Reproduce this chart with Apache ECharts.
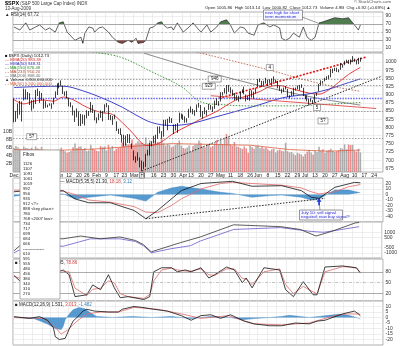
<!DOCTYPE html>
<html><head><meta charset="utf-8">
<script src="https://cdn.jsdelivr.net/npm/echarts@6/dist/echarts.min.js"></script>
<style>html,body{margin:0;padding:0;background:#fff}#c{width:400px;height:346px}</style>
</head><body><div id="c"></div>
<script>
const FONT = 'Liberation Sans';

// Trading sessions per month (Dec 2008 - Aug 2009, with the rest of August left blank)
const sessions = [
  ['2008-12', [1,2,3,4,5,8,9,10,11,12,15,16,17,18,19,22,23,24,26,29,30,31]],
  ['2009-01', [2,5,6,7,8,9,12,13,14,15,16,20,21,22,23,26,27,28,29,30]],
  ['2009-02', [2,3,4,5,6,9,10,11,12,13,17,18,19,20,23,24,25,26,27]],
  ['2009-03', [2,3,4,5,6,9,10,11,12,13,16,17,18,19,20,23,24,25,26,27,30,31]],
  ['2009-04', [1,2,3,6,7,8,9,13,14,15,16,17,20,21,22,23,24,27,28,29,30]],
  ['2009-05', [1,4,5,6,7,8,11,12,13,14,15,18,19,20,21,22,26,27,28,29]],
  ['2009-06', [1,2,3,4,5,8,9,10,11,12,15,16,17,18,19,22,23,24,25,26,29,30]],
  ['2009-07', [1,2,6,7,8,9,10,13,14,15,16,17,20,21,22,23,24,27,28,29,30,31]],
  ['2009-08', [3,4,5,6,7,10,11,12,13,14,17,18,19,20,21,24,25,26,27,28]]
];
const monthNames = ['Jan','Feb','Mar','Apr','May','Jun','Jul','Aug','Sep','Oct','Nov','Dec'];

// $SPX daily [open, close, low, high]
const ohlc = [
  [888.6,816.2,815.7,888.6],[817.0,848.8,817.0,850.5],[843.6,870.7,827.6,873.1],[869.8,845.2,839.0,881.2],[844.4,876.1,818.4,879.4],
  [882.7,909.7,882.7,918.6],[906.5,888.7,885.4,916.3],[892.0,899.2,885.5,908.3],[898.4,873.6,868.7,904.6],[871.8,879.7,851.4,883.2],
  [881.1,868.6,857.7,884.6],[871.5,913.2,871.5,914.7],[908.2,904.4,895.9,918.9],[905.9,885.3,875.0,911.0],[886.9,887.9,883.0,905.5],
  [887.2,871.6,857.1,887.4],[874.3,863.2,860.1,880.4],[863.9,868.2,861.4,869.8],[869.5,872.8,866.5,873.7],[872.4,869.4,857.1,873.7],
  [870.6,890.6,870.6,891.1],[890.6,903.3,889.4,910.3],
  [903.0,931.8,899.4,934.7],[929.2,927.5,919.5,936.6],[931.2,934.7,927.3,943.9],[927.5,906.7,902.4,927.5],[905.7,909.7,896.8,910.0],
  [909.9,890.4,888.3,911.9],[890.4,870.3,864.3,890.4],[869.8,871.8,862.0,877.0],[867.3,842.6,836.9,867.3],[842.0,843.7,817.0,851.6],
  [844.5,850.1,830.7,858.1],[849.6,805.2,804.5,849.6],[806.8,840.2,804.3,841.7],[839.7,827.5,811.3,839.7],[822.2,832.0,806.1,838.6],
  [832.5,836.6,827.7,852.5],[837.3,845.7,835.4,850.5],[845.7,874.1,845.7,877.9],[868.9,845.1,844.2,868.9],[845.7,825.9,821.7,851.7],
  [823.1,825.4,812.9,830.8],[825.7,838.5,822.0,842.6],[837.8,832.2,829.2,851.9],[831.8,845.9,818.5,850.6],[846.1,868.6,845.4,870.7],
  [868.2,869.9,861.7,875.0],[866.9,827.2,823.0,868.1],[827.4,833.7,822.1,838.2],[829.9,835.2,808.1,835.5],[834.0,826.8,825.2,839.4],
  [818.6,789.2,789.1,818.6],[791.1,788.4,780.4,796.2],[787.9,778.9,777.0,797.6],[775.9,770.1,754.3,778.7],[773.3,743.3,742.4,777.9],
  [744.7,773.1,744.7,775.5],[770.6,764.9,752.9,780.1],[765.8,752.8,751.8,779.4],[749.9,735.1,734.5,751.3],
  [729.6,700.8,699.7,729.6],[704.4,696.3,692.3,711.7],[698.6,712.9,698.6,724.1],[708.3,682.6,677.9,708.3],[684.0,683.4,666.8,699.1],
  [680.8,676.5,672.9,695.3],[679.3,719.6,679.3,719.6],[719.6,721.4,713.9,731.9],[722.3,750.7,714.8,752.6],[752.0,756.6,742.5,758.3],
  [758.8,753.9,753.4,774.5],[753.9,778.1,749.9,778.1],[776.0,794.4,765.6,803.0],[797.9,784.0,781.8,803.2],[784.6,768.5,766.2,788.9],
  [772.0,822.9,772.0,823.4],[820.6,806.1,805.5,823.7],[806.8,813.9,791.4,826.5],[814.1,832.9,814.1,833.0],[828.7,815.9,813.4,828.7],
  [809.1,787.5,779.8,809.1],[790.9,797.9,790.9,810.5],
  [793.6,811.1,783.3,813.6],[814.5,834.4,814.5,845.6],[835.1,842.5,826.7,842.5],[839.8,835.5,822.8,839.8],[834.1,815.6,814.5,834.1],
  [816.8,825.2,814.8,828.4],[829.3,856.6,829.3,856.9],[855.9,858.7,845.4,864.3],[856.9,841.5,840.2,856.9],[839.4,852.1,835.6,852.9],
  [854.5,865.3,847.0,870.3],[865.2,869.6,860.9,875.6],[868.3,832.4,832.4,868.3],[831.3,850.1,826.8,850.1],[847.3,843.6,840.6,861.8],
  [844.6,851.9,835.6,852.9],[853.9,866.2,853.9,871.8],[862.8,857.5,854.7,868.8],[854.5,855.2,847.1,864.5],[856.9,873.6,856.9,882.1],
  [876.6,872.8,868.2,888.7],
  [872.7,877.5,866.1,880.5],[879.2,907.2,879.2,907.9],[906.1,903.8,897.3,907.7],[903.8,919.5,903.8,920.3],[919.6,907.4,901.4,929.6],
  [909.0,929.2,909.0,930.2],[923.0,909.2,903.8,923.0],[910.5,908.4,896.5,915.6],[905.4,883.9,882.5,905.4],[884.2,893.1,882.5,898.4],
  [892.8,882.9,878.9,897.0],[886.1,909.7,886.1,910.0],[909.7,908.1,905.2,916.4],[908.6,903.5,901.4,924.6],[900.4,888.3,879.6,900.4],
  [888.7,887.0,883.8,896.7],[887.0,910.3,881.5,911.8],[910.0,893.1,891.9,913.8],[893.0,906.8,887.6,909.5],[907.0,919.1,903.6,920.0],
  [923.3,942.9,923.3,947.8],[942.9,944.7,938.5,949.4],[942.5,931.8,923.9,942.5],[932.5,942.5,929.3,942.5],[945.7,940.1,934.1,951.7],
  [938.1,939.1,926.4,946.3],[940.4,942.4,936.2,946.9],[942.7,939.2,928.0,949.8],[939.0,944.9,939.0,956.2],[943.4,946.2,935.7,946.3],
  [942.5,923.7,919.7,942.5],[925.6,912.0,911.6,928.0],[911.9,910.7,903.8,918.4],[910.9,918.4,907.9,921.9],[920.0,921.2,915.8,927.1],
  [918.1,893.0,893.0,918.1],[893.5,895.1,888.9,898.7],[896.3,900.9,896.3,910.9],[899.5,920.3,896.3,921.4],[918.8,918.9,913.0,922.0],
  [919.9,927.2,916.2,928.0],[927.1,919.3,912.9,930.0],
  [920.8,923.3,920.8,931.9],[921.2,896.4,896.4,921.2],[894.3,898.7,886.4,898.7],[898.6,881.0,879.9,898.6],[881.9,879.6,869.3,886.8],
  [881.3,882.7,878.4,887.9],[880.0,879.1,872.8,883.6],[879.6,901.1,875.3,901.1],[900.8,905.8,896.5,905.8],[910.2,932.7,910.2,933.0],
  [930.2,940.7,927.5,944.0],[940.6,940.4,934.5,941.9],[942.1,951.1,941.0,951.6],[952.0,954.6,945.1,956.5],[953.4,954.1,947.8,959.8],
  [954.1,976.3,953.3,979.4],[972.2,979.3,966.0,979.8],[978.6,982.2,972.3,982.5],[981.5,979.6,969.7,982.4],[977.7,975.2,968.7,977.8],
  [976.0,986.8,976.0,996.7],[986.8,987.5,982.9,993.2],
  [990.2,1002.6,990.2,1003.6],[1001.4,1005.7,996.7,1007.1],[1005.4,1002.7,994.3,1006.6],[1004.1,997.1,992.5,1008.0],[999.8,1010.5,999.8,1018.0],
  [1008.9,1007.1,1001.0,1010.1],[1005.8,994.4,992.4,1005.8],[994.0,1005.81,993.4,1012.8],[1005.86,1012.73,1000.82,1013.14]
];

// Daily volume, billions of shares
const volumeB = [
  6.0,6.5,6.2,5.8,5.6,6.4,6.0,5.9,5.8,6.1,5.5,6.4,5.9,5.7,6.3,4.9,4.5,2.6,1.9,3.5,4.2,4.4,
  4.0,5.4,6.1,5.5,5.2,4.8,5.0,5.3,6.2,7.1,6.0,6.3,6.4,5.7,6.0,5.2,5.4,6.8,5.9,5.6,
  5.3,5.2,6.5,6.2,6.4,5.4,6.8,5.9,6.5,5.3,5.8,6.0,6.2,7.4,6.5,7.1,6.9,7.0,8.1,
  6.8,7.2,7.7,7.4,7.3,6.9,8.6,7.1,7.9,6.8,7.8,6.9,7.5,7.4,8.5,7.2,6.6,7.0,6.8,6.2,6.4,6.8,
  7.1,7.9,6.6,6.0,5.9,6.1,6.6,5.2,6.5,6.8,6.9,7.9,7.2,6.4,6.2,6.7,7.0,6.2,6.5,7.2,8.0,
  6.9,7.9,7.0,8.6,9.5,8.7,6.8,6.6,7.5,6.4,6.3,6.0,5.8,6.4,5.9,4.8,6.5,6.2,5.8,6.5,
  6.6,6.0,6.3,5.9,6.1,5.6,5.3,5.7,5.8,4.9,5.4,5.6,5.3,5.2,7.3,5.2,4.9,5.0,4.6,4.2,4.8,4.6,
  4.4,3.9,4.5,5.1,5.5,4.9,4.4,5.3,5.0,6.3,5.4,5.7,4.8,5.3,5.5,5.8,5.3,5.0,5.2,5.4,6.0,5.8,
  6.9,5.7,6.9,6.7,6.8,5.3,5.1,5.8,4.9
];
const volumeMA = [[0,5.6],[20,5.4],[40,5.7],[60,6.4],[80,7.1],[100,6.9],[120,6.7],[140,5.6],[160,5.2],[176,5.5]];

// Overlays on the price panel, [session index, value]
const ema20 = [[0,885],[5,872],[10,880],[15,884],[20,880],[25,893],[30,885],[35,868],[40,854],[45,845],[50,840],[55,815],[60,785],[65,752],[68,745],[72,748],[76,760],[80,778],[85,795],[90,810],[95,826],[100,840],[105,856],[110,875],[115,890],[120,899],[125,910],[130,925],[135,928],[140,920],[145,912],[150,905],[155,902],[160,915],[165,938],[170,962],[176,983.38]];
const ema50 = [[0,922],[12,925],[25,926],[35,912],[44,892],[55,862],[62,838],[70,815],[80,806],[90,812],[100,828],[112,848],[124,868],[136,890],[151,904],[160,917],[168,933],[176,948.31]];
const ma150 = [[40,1030],[54,1015],[70,970],[85,925],[95,878],[105,870],[120,866],[140,866],[160,871],[176,876.48]];
const ma233 = [[93,1030],[110,1005],[130,975],[150,942],[165,922],[176,910.2]];
const ma200 = [[66,1027],[95,975],[120,935],[152,892],[176,868.4]];
const upperChannel = [[104,889],[179,1015]];
const lowerLine = [[100,897],[184,858]];
const supportLine = [[65,667],[187,957]];
const priceLevels = [946, 929, 850, 768];
const keyLevel = 888;
const priceTags = [['946',[102,948]],['929',[99,926]],['4',[130,983]],['5',[154,861]],['5?',[157,820]],['5?',[9,772]]];

// RSI
const rsi14 = [[0,62.6],[3,54.9],[6,72.8],[8,54.9],[11,62.6],[13,67.7],[16,54.9],[18,60],[21,49.7],[23,72.8],[25,75.4],[26,72.8],[27,49.7],[30,34.4],[31,29.2],[34,37],[35,21.5],[36,47.2],[38,62.6],[40,60],[41,49.7],[43,60],[45,62.6],[48,49.7],[50,37],[53,24.1],[55,21.5],[58,29.2],[60,24.1],[62,34.4],[63,21.5],[66,24.1],[67,29.2],[69,60],[71,62.6],[73,72.8],[75,75.4],[76,67.7],[78,60],[80,62.6],[81,54.9],[83,72.8],[86,49.7],[89,62.6],[91,72.8],[94,54.9],[95,49.7],[98,67.7],[100,49.7],[103,62.6],[105,75.4],[108,80.5],[110,67.7],[112,47.2],[115,62.6],[117,60],[119,47.2],[122,42],[124,67.7],[127,72.8],[130,62.6],[132,67.7],[135,60],[136,34.4],[138,29.2],[140,34.4],[142,47.2],[145,37],[147,62.6],[149,37],[151,29.2],[153,37],[155,72.8],[157,75.4],[160,80.5],[163,85.6],[167,83],[170,85.6],[173,67.7],[175,54.9],[176,67.72]];

// Momentum panel
const macdA = [[0,5],[10,8],[20,6],[25,7],[31,-8],[38,-15],[49,-15],[61,-29],[67,-44],[73,-29],[85,7],[95,20],[111,24],[121,15],[136,16],[146,7],[151,-5],[155,-7],[163,13],[173,22],[176,21.3]];
const signalA = [[0,8],[10,7],[20,6],[25,6],[31,0],[38,-10],[49,-14],[61,-22],[67,-32],[73,-33],[80,-20],[85,-8],[95,10],[105,20],[111,22],[121,20],[136,17],[146,12],[151,5],[155,1],[163,5],[170,14],[176,18.18]];
const histA = [[0,-3],[10,1],[20,0],[25,1],[31,-8],[38,-5],[49,-1],[61,-7],[67,-12],[73,4],[80,12],[85,15],[95,10],[105,4],[111,2],[121,-5],[130,-2],[136,-1],[146,-5],[151,-10],[155,-8],[163,8],[170,8],[176,3.12]];
const trendA = [[67,-44],[158,-7]];

// Breadth panel
const breadthBlack = [[0,-800],[3,-300],[10,200],[20,400],[25,364],[34,636],[44,364],[54,545],[62,200],[66,-200],[70,-900],[75,-600],[85,0],[95,545],[112,1727],[136,1545],[146,1273],[154,636],[162,1091],[174,1909],[176,1950]];
const breadthPurple = [[0,-1000],[3,-700],[10,-400],[20,-300],[25,-364],[39,364],[54,364],[62,100],[66,-300],[70,-1000],[80,-600],[90,-300],[95,150],[112,1273],[136,1455],[151,1091],[158,1000],[167,1273],[176,1545]];

// Slow stochastic
const stochK = [[0,70],[3,55],[8,80],[12,40],[16,70],[20,75],[25,85],[28,72],[31,12],[37,17],[40,44],[44,31],[48,72],[51,36],[54,9],[58,12],[61,9],[66,4],[69,12],[71,80],[75,91],[80,91],[83,80],[87,85],[90,80],[95,91],[99,63],[102,72],[108,93],[112,85],[116,50],[118,63],[121,36],[122,39],[127,91],[135,85],[138,31],[142,12],[147,53],[152,17],[154,17],[158,93],[167,96],[171,93],[174,91],[176,76.45]];
const stochD = [[0,68],[3,62],[8,68],[12,55],[16,60],[20,72],[25,80],[28,80],[31,35],[37,15],[40,32],[44,35],[48,55],[51,50],[54,20],[58,12],[61,10],[66,7],[69,18],[71,55],[75,85],[80,90],[83,85],[87,82],[90,82],[95,88],[99,72],[102,70],[108,88],[112,88],[116,62],[118,60],[121,45],[122,40],[127,80],[135,88],[138,45],[142,20],[147,40],[152,25],[154,20],[158,80],[167,94],[171,93],[174,90],[176,78.86]];

// MACD(12,26,9)
const macdD = [[0,0.8],[8,-0.8],[13,0.8],[17,-2.5],[20,-9.2],[21,-17.5],[23,-20],[26,-19],[28,-10.8],[30,-3.3],[33,1.7],[35,5.8],[37,7.5],[41,5.8],[48,5],[53,5],[55,7.5],[61,10],[65,9.2],[71,7.5],[78,5.8],[85,1.7],[90,-2.5],[95,1.7],[100,2.5],[105,-0.8],[110,2.5],[114,-0.8],[117,-3.3],[122,-5.8],[130,-7.5],[136,-7.5],[143,-5],[150,-5.8],[154,-3.3],[158,-2.5],[167,3.3],[173,5.8],[175,3.3],[176,1.531]];
const signalD = [[0,0],[15,-0.8],[21,-9.2],[24,-15],[27,-11.7],[32,-3.3],[37,3.3],[44,5],[53,5],[61,9.2],[73,7.5],[85,3.3],[95,-0.8],[109,1.7],[116,-2.5],[122,-5.8],[136,-6.7],[150,-5],[163,1.7],[170,3.3],[176,3.013]];
const histD = [[0,0],[10,-1],[13,-3],[17,-6],[21,-10],[24,-11],[25,-8],[26,-2],[28,3],[30,7],[33,9],[36,8],[39,4],[42,1],[50,0],[60,1],[70,0],[80,1],[90,-1],[100,1],[110,0],[116,-2],[122,-1],[130,0],[136,1],[140,2],[150,0],[155,1],[160,2],[165,3],[170,2],[174,0],[176,-1.482]];

// Fibonacci reference levels listed in the side box
const fibLevels = ['1126','1107','1091','1061','1019','992','956','935','912 <?>','888 <key place>','780','768 <2007 low>','734','717','699','684','666','---------------','610','591','555','480','456','380','340','310','270'];

// Axis tick values per panel
const rsiTicks = [10,30,50,70,90];
const priceTicks = [675,700,725,750,775,800,825,850,875,900,925,950,975,1000];
const volTicks = [2,4,6,8,10];
const aTicks = [20,10,0,-10,-20,-30,-40];
const bTicks = [1000,500,-500,-1000];
const stoTicks = [20,50,80];
const dTicks = [10,5,0,-5,-10,-15,-20];

// ---- derived helpers ----
const dates = [];
sessions.forEach(([ym, days]) => days.forEach(d => dates.push(ym + '-' + String(d).padStart(2, '0'))));
const dow = dates.map(s => new Date(s + 'T00:00:00Z').getUTCDay());
const weekStart = dates.map((s, i) => i === 0 || dow[i] < dow[i - 1]);
const tickText = [];
let prevMonth = -1;
dates.forEach((s, i) => {
  if (!weekStart[i]) { tickText.push(''); return; }
  const m = +s.slice(5, 7) - 1;
  tickText.push(m !== prevMonth ? monthNames[m] : String(+s.slice(8)));
  prevMonth = m;
});
const last = a => a[a.length - 1][1];
const fmt2 = v => v.toFixed(2);
const withCommas = n => Math.round(n).toString().replace(/\B(?=(\d{3})+(?!\d))/g, ',');

const GRID_L = 13, GRID_R = 17;
const grids = [
  [12, 40], [53, 119], [178, 44], [222, 36], [259, 42], [301, 44]
].map(([top, height]) => ({left: GRID_L, right: GRID_R, top, height, show: true,
  borderColor: '#9a9a9a', borderWidth: 0.8, backgroundColor: '#fff'}));

function xAxis(gi, labels) {
  return {
    type: 'category', gridIndex: gi, data: dates, boundaryGap: true,
    axisLine: {show: false}, axisTick: {show: false},
    axisLabel: labels ? {
      show: true, interval: (i) => weekStart[i], formatter: (v, i) => tickText[i],
      fontSize: 5, color: '#222', margin: 1.5, fontFamily: FONT
    } : {show: false},
    splitLine: {show: true, interval: (i) => weekStart[i], lineStyle: {color: '#e3e3e3', width: 0.6}}
  };
}
function yAxis(gi, min, max, ticks, opts) {
  opts = opts || {};
  return {
    type: 'value', gridIndex: gi, min, max, position: opts.position || 'right', scale: true,
    axisLine: {show: false},
    axisTick: {show: false, customValues: ticks},
    axisLabel: {customValues: ticks, fontSize: 5, color: '#333', margin: opts.margin || 2.5, fontFamily: FONT,
      formatter: opts.formatter || (v => String(v))},
    splitLine: {show: opts.split !== false, customValues: ticks, lineStyle: {color: '#e3e3e3', width: 0.6}}
  };
}

const lineBase = (xi, yi, data, color, width, type, extra) => Object.assign({
  type: 'line', xAxisIndex: xi, yAxisIndex: yi, data, showSymbol: false, symbol: 'none',
  silent: true, lineStyle: {color, width, type: type || 'solid'}, z: 3
}, extra || {});

const volumeData = volumeB.map((v, i) => ({
  value: v,
  itemStyle: {color: (i > 0 && ohlc[i][1] < ohlc[i - 1][1]) ? 'rgba(226,110,110,0.78)' : 'rgba(150,150,150,0.78)'}
}));

const thinLevel = (y, color, type, width) => ({yAxis: y, lineStyle: {color, type, width}});
const CLEAR = 'rgba(255,255,255,0)';

const option = {
  animation: false,
  textStyle: {fontFamily: FONT},
  grid: grids,
  xAxis: [xAxis(0, false), xAxis(1, true), xAxis(2, false), xAxis(3, false), xAxis(4, false), xAxis(5, false)],
  yAxis: [
    yAxis(0, 0, 100, rsiTicks),
    yAxis(1, 664, 1027.5, priceTicks),
    yAxis(1, 0, 29.75, volTicks, {position: 'left', split: false, margin: 1, formatter: v => v + 'B'}),
    yAxis(2, -50, 30, aTicks),
    yAxis(3, -1500, 2000, bTicks),
    yAxis(4, 0, 115, stoTicks, {split: false}),
    yAxis(5, -25, 15, dTicks)
  ],
  // RSI zones: fill above 70 and below 30 only
  visualMap: [
    {type: 'piecewise', show: false, seriesIndex: 0, dimension: 1,
      pieces: [{min: 0, max: 70, color: CLEAR}, {min: 70, max: 100, color: '#4f7d4f'}]},
    {type: 'piecewise', show: false, seriesIndex: 1, dimension: 1,
      pieces: [{min: 0, max: 30, color: '#8a4646'}, {min: 30, max: 100, color: CLEAR}]}
  ],
  series: [
    // 0-2 RSI
    lineBase(0, 0, rsi14, '#000', 0, 'solid', {areaStyle: {origin: 70, opacity: 1}, z: 2}),
    lineBase(0, 0, rsi14, '#000', 0, 'solid', {areaStyle: {origin: 30, opacity: 1}, z: 2}),
    lineBase(0, 0, rsi14, '#222', 0.7, 'solid', {markLine: {silent: true, symbol: 'none', label: {show: false},
      data: [thinLevel(70, '#8a8a8a', 'solid', 0.7), thinLevel(30, '#8a8a8a', 'solid', 0.7), thinLevel(50, '#aaaaaa', [2, 2], 0.6)]}}),
    // 3 candles
    {type: 'candlestick', xAxisIndex: 1, yAxisIndex: 1, data: ohlc, barMaxWidth: 1.9, silent: true, z: 5,
      itemStyle: {color: '#fff', color0: '#000', borderColor: '#000', borderColor0: '#000', borderWidth: 0.75},
      markLine: {silent: true, symbol: 'none', label: {show: false},
        data: priceLevels.map(p => thinLevel(p, '#7a7a7a', [1.5, 1.5], 0.7)).concat([thinLevel(keyLevel, '#6a6ae8', [1.5, 1.2], 1.3)])}},
    // 4-5 volume
    {type: 'bar', xAxisIndex: 1, yAxisIndex: 2, data: volumeData, barWidth: '80%', silent: true, z: 1},
    lineBase(1, 2, volumeMA, '#d86040', 0.8, 'solid', {z: 2}),
    // 6-10 moving averages
    lineBase(1, 1, ema20, '#e02828', 0.9, 'solid', {smooth: 0.35, markPoint: {silent: true,
      data: priceTags.map(([t, c]) => ({coord: c, symbol: 'rect', symbolSize: [t.length * 3 + 4, 6],
        itemStyle: {color: '#fff', borderColor: '#555', borderWidth: 0.5},
        label: {show: true, formatter: t, fontSize: 4.5, color: '#111', fontFamily: FONT}}))}}),
    lineBase(1, 1, ema50, '#2c2cc0', 0.9, 'solid', {smooth: 0.35}),
    lineBase(1, 1, ma150, '#2f8a2f', 0.9, [1.5, 1.5], {smooth: 0.35}),
    lineBase(1, 1, ma233, '#b05030', 0.8, [1.5, 1.5], {smooth: 0.35}),
    lineBase(1, 1, ma200, '#6a6a6a', 0.8, 'solid', {smooth: 0.35}),
    // 11-13 trend lines
    lineBase(1, 1, upperChannel, '#e01010', 1.6, [2, 1.5]),
    lineBase(1, 1, lowerLine, '#e04848', 0.9, 'solid'),
    lineBase(1, 1, supportLine, '#111', 0.9, [1.5, 1.5]),
    // 14-17 momentum panel
    lineBase(2, 3, histA, '#2f7fc1', 0.4, 'solid', {areaStyle: {origin: 0, color: '#3a88c8', opacity: 0.85}, z: 2}),
    lineBase(2, 3, signalA, '#e06a6a', 0.8),
    lineBase(2, 3, macdA, '#111', 0.8),
    lineBase(2, 3, trendA, '#111', 0.9, [1.5, 1.5]),
    // 18-19 breadth panel
    lineBase(3, 4, breadthPurple, '#6a5acd', 0.8),
    lineBase(3, 4, breadthBlack, '#333', 0.8),
    // 20-21 stochastic
    lineBase(4, 5, stochD, '#e06a6a', 0.8),
    lineBase(4, 5, stochK, '#111', 0.8, 'solid', {markLine: {silent: true, symbol: 'none', label: {show: false},
      data: [thinLevel(80, '#8a8a8a', 'solid', 0.7), thinLevel(20, '#8a8a8a', 'solid', 0.7), thinLevel(50, '#9a9a9a', [3, 1.5, 1, 1.5], 0.6)]}}),
    // 22-24 MACD
    lineBase(5, 6, histD, '#2f7fc1', 0.4, 'solid', {areaStyle: {origin: 0, color: '#3a88c8', opacity: 0.85}, z: 2}),
    lineBase(5, 6, signalD, '#e06a6a', 0.8),
    lineBase(5, 6, macdD, '#111', 0.8)
  ]
};

const chart = echarts.init(document.getElementById('c'), null, {renderer: 'canvas'});
chart.setOption(option);

// ---- text, legends and notes ----
function txt(x, y, text, size, color, extra) {
  return {type: 'text', x, y, silent: true, z: 100,
    style: Object.assign({text, fontSize: size, fill: color, fontFamily: FONT, verticalAlign: 'top'}, extra || {})};
}
function rich(x, y, text, parts) {
  const r = {};
  Object.keys(parts).forEach(k => { r[k] = {fill: parts[k], fontSize: 4.5, fontFamily: FONT}; });
  return {type: 'text', x, y, silent: true, z: 100,
    style: {text, rich: r, fontSize: 4.5, fontFamily: FONT, verticalAlign: 'top'}};
}

const lastBar = ohlc[ohlc.length - 1], prevClose = ohlc[ohlc.length - 2][1];
const chg = lastBar[1] - prevClose;
const header = 'Open ' + fmt2(lastBar[0]) + '  High ' + fmt2(lastBar[3]) + '  Low ' + fmt2(lastBar[2]) +
  '  Close ' + fmt2(lastBar[1]) + '  Volume ' + volumeB[volumeB.length - 1].toFixed(1) + 'B  Chg +' + fmt2(chg) +
  ' (+' + (chg / prevClose * 100).toFixed(2) + '%) \u25B2';

const g = [];
const title = rich(5, 0.5, '{b|$SPX} {n|(S&P 500 Large Cap Index) INDX}', {b: '#000', n: '#333'});
title.style.rich.b.fontWeight = 'bold';
title.style.rich.b.fontSize = 5.5;
g.push(title);
g.push(txt(5, 6.5, '13-Aug-2009', 4.5, '#333'));
g.push(txt(205, 5.5, header, 4.3, '#222'));
g.push(txt(354, 0, '\u00A9 StockCharts.com', 4.3, '#555'));
g.push(txt(5, 12.5, '\u25B2 RSI(14) ' + fmt2(last(rsi14)), 4.5, '#222'));

// price legend
const legendRows = [
  ['\u25A0 $SPX (Daily) ' + fmt2(lastBar[1]), '#111'],
  ['\u2014 EMA(20) ' + fmt2(last(ema20)), '#e02828'],
  ['\u2014 EMA(50) ' + fmt2(last(ema50)), '#2c2cc0'],
  ['- - MA(150) ' + fmt2(last(ma150)), '#2f8a2f'],
  ['- - MA(233) ' + fmt2(last(ma233)), '#b05030'],
  ['\u2014 MA(200) ' + fmt2(last(ma200)), '#6a6a6a'],
  ['\u25B2 Volume ' + withCommas(volumeB[volumeB.length - 1] * 1e9), '#333'],
  ['- - MA(50) ' + withCommas(last(volumeMA) * 1e9), '#d86040']
];
legendRows.forEach(([t, c], i) => g.push(txt(5, 53.5 + i * 4.1, t, 4.2, c)));

g.push(rich(60, 179, '{k|\u2014 MACD(5,35,5)} {k|' + fmt2(last(macdA)) + ',} {r|' + fmt2(last(signalA)) + ',} {b|' + fmt2(last(histA)) + '}',
  {k: '#222', r: '#d04040', b: '#2f7fc1'}));
g.push(rich(15, 260.5, '{k|\u25A0 Slow STO(14,3)} {k|' + fmt2(last(stochK)) + ',} {r|' + fmt2(last(stochD)) + '}',
  {k: '#222', r: '#d04040'}));
g.push(rich(15, 302, '{k|\u25A0 MACD(12,26,9)} {k|' + last(macdD).toFixed(3) + ',} {r|' + last(signalD).toFixed(3) + ',} {b|' + last(histD).toFixed(3) + '}',
  {k: '#222', r: '#d04040', b: '#2f7fc1'}));

// RSI momentum note
g.push({type: 'line', silent: true, z: 99, shape: {x1: 302, y1: 17, x2: 318, y2: 23}, style: {stroke: '#555', lineWidth: 0.6}});
g.push({type: 'rect', silent: true, z: 99, shape: {x: 263.5, y: 10, width: 39, height: 10},
  style: {fill: '#f7f7ff', stroke: '#555', lineWidth: 0.6}});
g.push(txt(265, 10.8, 'new high for short', 4.3, '#2a2ad0'));
g.push(txt(265, 15, 'term momentum', 4.3, '#2a2ad0'));

// July 10 note with arrow in the momentum panel
const arrowTip = chart.convertToPixel({xAxisIndex: 2, yAxisIndex: 3}, [155, -7]);
g.push({type: 'line', silent: true, z: 99, shape: {x1: arrowTip[0], y1: arrowTip[1] + 3, x2: 320, y2: 210}, style: {stroke: '#555', lineWidth: 0.6}});
g.push({type: 'polygon', silent: true, z: 100,
  shape: {points: [[arrowTip[0], arrowTip[1]], [arrowTip[0] - 2.5, arrowTip[1] + 3.5], [arrowTip[0] - 0.8, arrowTip[1] + 3.5],
    [arrowTip[0] - 0.8, arrowTip[1] + 7], [arrowTip[0] + 0.8, arrowTip[1] + 7], [arrowTip[0] + 0.8, arrowTip[1] + 3.5], [arrowTip[0] + 2.5, arrowTip[1] + 3.5]]},
  style: {fill: '#1a3ad8'}});
g.push({type: 'rect', silent: true, z: 99, shape: {x: 299.5, y: 210, width: 43, height: 10},
  style: {fill: '#f7f7ff', stroke: '#555', lineWidth: 0.6}});
g.push(txt(301, 210.8, 'July 10: sell signal', 4.3, '#2a2ad0'));
g.push(txt(301, 215, 'negated; now buy signal?', 4.3, '#2a2ad0'));

// March low marker in the date row
const lowX = chart.convertToPixel({xAxisIndex: 1, yAxisIndex: 1}, [65, 700])[0];
g.push({type: 'rect', silent: true, z: 99, shape: {x: lowX - 2.5, y: 172.5, width: 5, height: 5.5},
  style: {fill: '#fff', stroke: '#444', lineWidth: 0.6}});
g.push(txt(lowX - 1.4, 173, 'H', 4.5, '#111'));

// Fibonacci list box
g.push({type: 'rect', silent: true, z: 110, shape: {x: 20, y: 150, width: 40, height: 149},
  style: {fill: '#fff', stroke: '#8a8a8a', lineWidth: 0.7}});
g.push(Object.assign(txt(23, 152.5, 'Fibos', 4.6, '#222'), {z: 111}));
fibLevels.forEach((t, i) => g.push(Object.assign(txt(23, 161.5 + i * 5, t, 4.2, '#222'), {z: 111})));

chart.setOption({graphic: g});
</script>
</body></html>
